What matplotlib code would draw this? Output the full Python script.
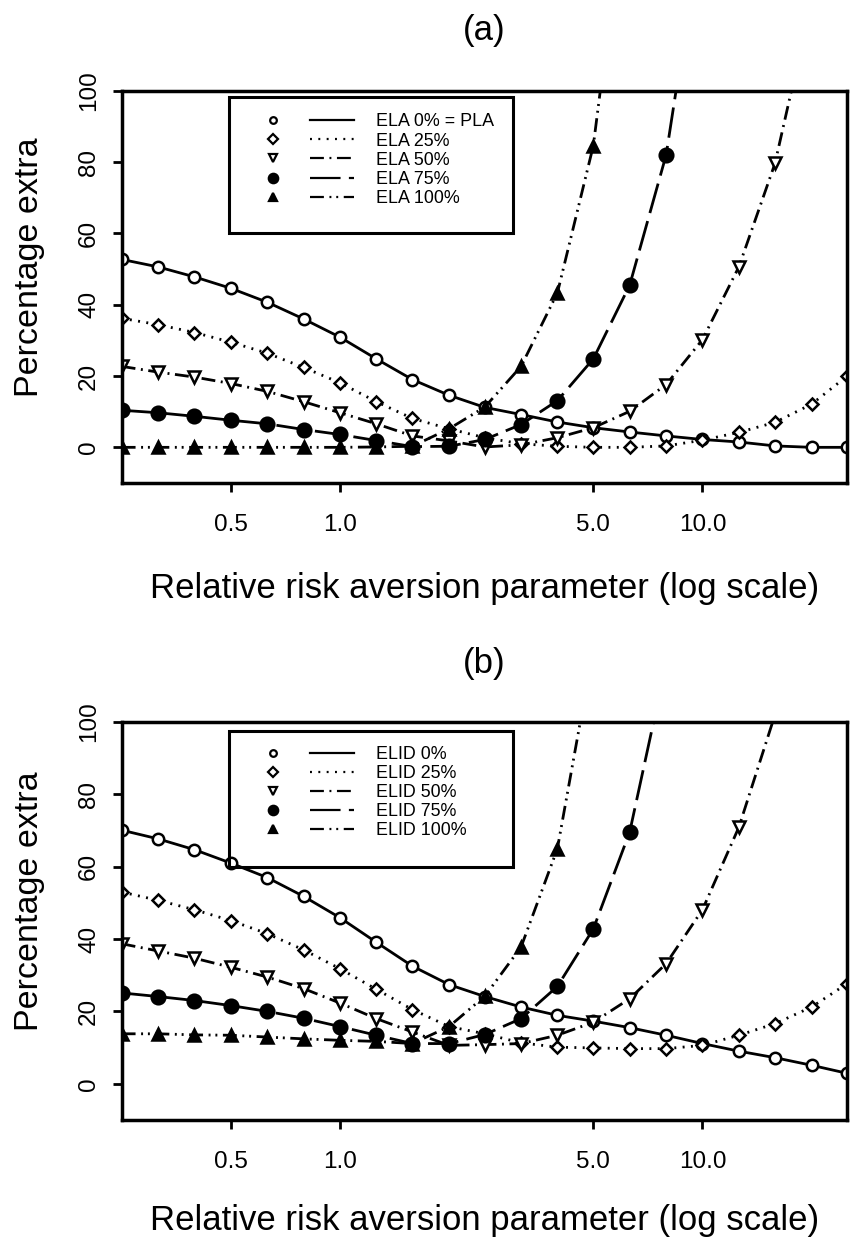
import numpy as np
import matplotlib
matplotlib.use("Agg")
import matplotlib.pyplot as plt
from matplotlib.lines import Line2D
from matplotlib.legend_handler import HandlerTuple
from matplotlib.patches import Rectangle
from matplotlib.ticker import FixedLocator, NullLocator

plt.rcParams['font.family'] = ['Liberation Sans', 'DejaVu Sans']
plt.rcParams['lines.scale_dashes'] = False

nan = np.nan

# Relative risk aversion parameter (x values of the markers)
rra = [0.25, 0.315, 0.397, 0.5, 0.63, 0.794, 1.0, 1.26, 1.585, 2.0, 2.51,
       3.16, 3.98, 5.0, 6.3, 7.94, 10.0, 12.6, 15.85, 20.0, 25.0]

# Panel (a): ELA
ela_0 = [52.7, 50.6, 47.8, 44.6, 40.7, 36.0, 30.9, 24.8, 19.0, 14.6, 11.2,
         9.2, 7.1, 5.5, 4.3, 3.2, 2.2, 1.5, 0.4, 0.0, 0.0]
ela_25 = [36.2, 34.4, 32.2, 29.5, 26.4, 22.4, 18.1, 12.8, 8.1, 5.2, 2.7,
          1.0, 0.3, 0.0, 0.0, 0.4, 2.0, 4.2, 7.0, 12.1, 19.9]
ela_50 = [22.7, 21.1, 19.7, 17.9, 15.7, 12.8, 9.7, 6.6, 3.2, 1.8, 0.1,
          0.7, 2.7, 5.5, 10.1, 17.6, 30.2, 50.6, 79.6, 125.0, nan]
ela_75 = [10.4, 9.7, 8.7, 7.6, 6.6, 5.0, 3.6, 1.9, 0.2, 0.3, 2.2,
          6.4, 13.1, 24.8, 45.5, 82.0, 148.0, nan, nan, nan, nan]
ela_100 = [0.0, 0.0, 0.0, 0.0, 0.0, 0.0, 0.0, 0.1, 0.3, 5.2, 11.3,
           22.7, 43.3, 84.6, 165.0, nan, nan, nan, nan, nan, nan]

# Panel (b): ELID
elid_0 = [70.1, 67.7, 64.7, 61.0, 57.0, 51.8, 45.9, 39.1, 32.5, 27.4, 24.1,
          21.2, 18.9, 17.3, 15.5, 13.4, 11.1, 9.0, 7.2, 5.1, 2.9]
elid_25 = [53.0, 50.7, 48.1, 45.1, 41.5, 37.0, 31.8, 26.1, 20.5, 15.8, 13.8,
           11.3, 10.1, 9.9, 9.7, 9.7, 10.6, 13.4, 16.6, 21.2, 27.6]
elid_50 = [38.7, 36.7, 34.7, 32.2, 29.5, 26.3, 22.3, 18.0, 14.3, 10.6, 10.8,
           11.1, 13.4, 17.0, 23.5, 33.2, 48.1, 70.9, 102.0, 140.0, nan]
elid_75 = [25.1, 24.1, 23.0, 21.6, 20.0, 18.1, 15.8, 13.4, 11.1, 11.1, 13.6,
           18.0, 26.9, 42.8, 69.6, 116.0, nan, nan, nan, nan, nan]
elid_100 = [13.8, 13.8, 13.5, 13.4, 12.9, 12.4, 12.0, 11.7, 11.1, 15.8, 24.2,
            37.8, 65.0, 120.0, nan, nan, nan, nan, nan, nan, nan]

labels_a = ["ELA 0% = PLA", "ELA 25%", "ELA 50%", "ELA 75%", "ELA 100%"]
labels_b = ["ELID 0%", "ELID 25%", "ELID 50%", "ELID 75%", "ELID 100%"]

xtick_vals = [0.5, 1.0, 5.0, 10.0]
xtick_labels = ["0.5", "1.0", "5.0", "10.0"]
ytick_vals = [0, 20, 40, 60, 80, 100]

# styles: (linestyle, marker, markersize, facecolor, legend markersize)
LW = 2.0
MEW = 1.8
styles = [
    ('-', 'o', 8.2, 'white', 4.8),
    ((0, (1.4, 4.6)), 'D', 6.2, 'white', 4.8),
    ((0, (10.0, 4.0, 1.4, 4.0)), 'v', 8.3, 'white', 6.0),
    ((0, (22.0, 6.0)), 'o', 9.8, 'black', 6.8),
    ((0, (10.0, 4.0, 1.4, 3.5, 1.4, 4.0)), '^', 8.8, 'black', 6.0),
]


def draw_panel(ax, series, labels, title, leg_frame, leg_anchor, xlab_y):
    for vals, (ls, mk, ms, fc, lms) in zip(series, styles):
        ax.plot(rra, vals, linestyle=ls, color='black', lw=LW,
                marker=mk, ms=ms, mfc=fc, mec='black', mew=MEW)
    ax.set_xscale('log')
    ax.set_xlim(0.25, 25.0)
    ax.set_ylim(-10, 100)
    ax.xaxis.set_major_locator(FixedLocator(xtick_vals))
    ax.xaxis.set_minor_locator(NullLocator())
    ax.set_xticklabels(xtick_labels)
    ax.yaxis.set_major_locator(FixedLocator(ytick_vals))
    ax.yaxis.set_minor_locator(NullLocator())
    for lab in ax.get_yticklabels():
        lab.set_rotation(90)
        lab.set_va('center')
    for sp in ax.spines.values():
        sp.set_linewidth(2.5)
    ax.tick_params(axis='both', direction='out', length=6.5, width=2.0,
                   labelsize=17.5)
    ax.tick_params(axis='x', pad=16)
    ax.tick_params(axis='y', pad=9)
    ax.set_xlabel("Relative risk aversion parameter (log scale)",
                  fontsize=25, va='center')
    ax.xaxis.set_label_coords(0.5, xlab_y)
    ax.set_ylabel("Percentage extra", fontsize=24.5, va='center')
    ax.yaxis.set_label_coords(-0.1265, 0.55)
    ax.set_title(title, fontsize=25, y=leg_anchor[2], va='center', pad=0)

    # legend: marker column, line column, text
    handles = []
    for ls, mk, ms, fc, lms in styles:
        mh = Line2D([], [], linestyle='none', marker=mk, ms=lms, mfc=fc,
                    mec='black', mew=1.6)
        lh = Line2D([], [], linestyle=ls, color='black', lw=1.6)
        handles.append((mh, lh))
    blank = Line2D([], [], linestyle='none')
    handles.append(blank)
    ax.legend(handles, labels + [""],
              handler_map={tuple: HandlerTuple(ndivide=None, pad=0.84)},
              loc='upper left', bbox_to_anchor=(leg_anchor[0], leg_anchor[1]),
              frameon=False, fontsize=12.9, handlelength=5.8,
              handletextpad=1.2, labelspacing=0.12, borderpad=0.0,
              borderaxespad=0.0, numpoints=1)
    ax.add_patch(Rectangle((leg_frame[0], leg_frame[1]), leg_frame[2], leg_frame[3],
                           transform=ax.transAxes, fill=False, lw=2.2,
                           edgecolor='black', zorder=5))


fig = plt.figure(figsize=(8.52, 12.41), dpi=100)
ax1 = fig.add_axes([0.1428, 0.6108, 0.851, 0.3161])
ax2 = fig.add_axes([0.1428, 0.0976, 0.851, 0.3206])

draw_panel(ax1, [ela_0, ela_25, ela_50, ela_75, ela_100], labels_a, "(a)",
           (0.148, 0.6373, 0.3917, 0.3474), (0.1777, 0.942, 1.1547), -0.268)
draw_panel(ax2, [elid_0, elid_25, elid_50, elid_75, elid_100], labels_b, "(b)",
           (0.148, 0.6363, 0.3917, 0.3418), (0.1777, 0.940, 1.1483), -0.252)

fig.savefig("out.png", dpi=100)
